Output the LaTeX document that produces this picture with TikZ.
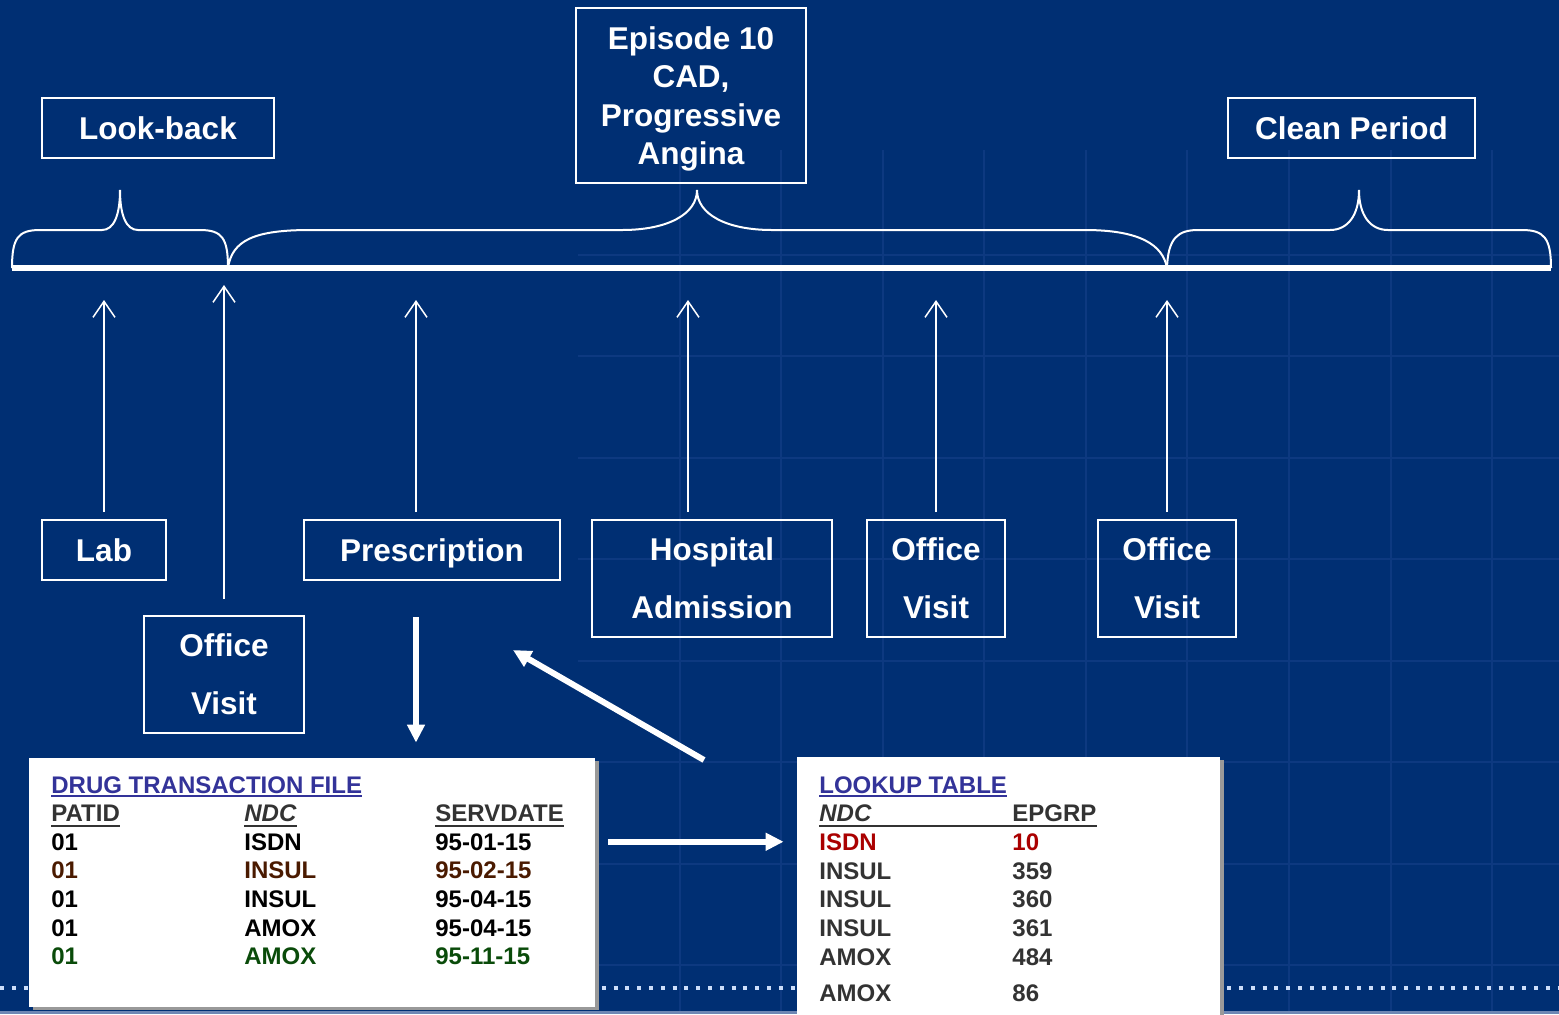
\documentclass[tikz,border=0pt]{standalone}
\usepackage{fontspec}
\setmainfont{Liberation Sans}
\usepackage{tikz}
\usetikzlibrary{arrows.meta,shadows}

\definecolor{bgblue}{RGB}{0,47,115}
\definecolor{gridblue}{RGB}{13,57,128}
\definecolor{dotcol}{RGB}{205,222,250}
\definecolor{stripcol}{RGB}{110,135,180}
\definecolor{shadowgray}{RGB}{153,153,153}
\definecolor{titleblue}{RGB}{51,51,153}
\definecolor{hdrgray}{RGB}{51,51,51}
\definecolor{brownrow}{RGB}{74,26,0}
\definecolor{greenrow}{RGB}{10,75,10}
\definecolor{redrow}{RGB}{170,0,0}

\begin{document}
\begin{tikzpicture}[x=0.5pt, y=-0.5pt,
    every node/.style={inner sep=0pt},
    box/.style={draw=white, line width=1pt, text=white, align=center, text depth=0pt, font=\fontsize{15.75}{19.25}\selectfont\bfseries},
    twoline/.style={box, font=\fontsize{15.75}{29}\selectfont\bfseries},
    uparrow/.style={draw=white, line width=0.75pt, -{Straight Barb[length=8pt, width=11pt]}},
    fatarrow/.style={draw=white, line width=3pt, -{Triangle[length=9pt, width=8.5pt]}},
    brace/.style={draw=white, line width=1pt},
    tablebox/.style={fill=white, drop shadow={shadow xshift=2pt, shadow yshift=-1.5pt, fill=shadowgray, opacity=1}},
    cell/.style={anchor=base west, font=\fontsize{12}{14}\selectfont\bfseries},
    cellit/.style={cell, font=\fontsize{12}{14}\selectfont\bfseries\itshape}]

    % Background and faint grid
    \useasboundingbox (0,0) rectangle (1559,1014);
    \fill[bgblue] (0,0) rectangle (1559,1014);
    \foreach \gx in {680,781,883,984,1086,1187,1289,1391,1492}
        \draw[gridblue, line width=0.75pt] (\gx,150) -- (\gx,1014);
    \foreach \gy in {255,356,458,559,661,762,864,965}
        \draw[gridblue, line width=0.75pt] (578,\gy) -- (1559,\gy);
    \draw[dotcol, line width=2pt, dash pattern=on 2pt off 3.9pt] (0,988) -- (1559,988);
    \fill[stripcol] (0,1011) rectangle (1559,1014);

    % Time line and braces
    \draw[white, line width=3pt] (12,268) -- (1551,268);
    \draw[brace] (12,268) .. controls (12,238) and (18,230) .. (40,230) -- (102,230)
        .. controls (114,230) and (120,215) .. (120,190)
        .. controls (120,215) and (126,230) .. (138,230) -- (200,230)
        .. controls (222,230) and (228,238) .. (228,268);
    \draw[brace] (228,268) .. controls (232,240) and (255,230) .. (310,230) -- (622,230)
        .. controls (668,230) and (697,214) .. (697,190)
        .. controls (697,214) and (726,230) .. (772,230) -- (1085,230)
        .. controls (1140,230) and (1163,245) .. (1167,268);
    \draw[brace] (1167,268) .. controls (1168,238) and (1178,230) .. (1198,230) -- (1330,230)
        .. controls (1348,230) and (1359,215) .. (1359,190)
        .. controls (1359,215) and (1370,230) .. (1388,230) -- (1522,230)
        .. controls (1544,230) and (1551,238) .. (1551,268);

    % Period labels
    \node[box, minimum width=116pt, minimum height=30pt] (look) at (158,128) {Look-back};
    \node[box, minimum width=115pt, minimum height=87.5pt] (episode) at (691,95.5) {Episode 10\\CAD,\\Progressive\\Angina};
    \node[box, minimum width=123.5pt, minimum height=30pt] (clean) at (1351.5,128) {Clean Period};

    % Events
    \node[box, minimum width=62pt, minimum height=30pt] (lab) at (104,550) {Lab};
    \node[twoline, minimum width=80pt, minimum height=58.5pt] (ov1) at (224,674.5) {Office\\Visit};
    \node[box, minimum width=128pt, minimum height=30pt] (presc) at (432,550) {Prescription};
    \node[twoline, minimum width=120pt, minimum height=58.5pt] (hosp) at (712,578.5) {Hospital\\Admission};
    \node[twoline, minimum width=69pt, minimum height=58.5pt] (ov2) at (936,578.5) {Office\\Visit};
    \node[twoline, minimum width=69pt, minimum height=58.5pt] (ov3) at (1167,578.5) {Office\\Visit};

    \foreach \n/\x/\y/\gap in {lab/104/300/3.5pt, ov1/224/285/8pt, presc/416/300/3.5pt, hosp/688/300/3.5pt, ov2/936/300/3.5pt, ov3/1167/300/3.5pt} {
        \coordinate (t\n) at (\x,\y);
        \draw[uparrow, shorten <=\gap] (t\n |- \n.north) -- (t\n);
    }

    % Drug transaction file
    \node[tablebox, minimum width=283pt, minimum height=124.5pt] (drug) at (312,882.5) {};
    \node[cell, text=titleblue] (dtitle) at (51,793) {DRUG TRANSACTION FILE};
    \draw[titleblue, line width=1.1pt] ([yshift=-1.5pt]dtitle.base west) -- ([yshift=-1.5pt]dtitle.base east);
    \node[cell, text=hdrgray] (dh1) at (51,821) {PATID};
    \node[cellit, text=hdrgray] (dh2) at (244,821) {NDC};
    \node[cell, text=hdrgray] (dh3) at (435,821) {SERVDATE};
    \foreach \h in {dh1,dh2,dh3}
        \draw[hdrgray, line width=1.4pt] ([yshift=-2.5pt]\h.base west) -- ([yshift=-2.5pt]\h.base east);
    \foreach \r/\y/\c/\ndc/\dt in {1/850/black/ISDN/95-01-15, 2/878/brownrow/INSUL/95-02-15, 3/907/black/INSUL/95-04-15, 4/936/black/AMOX/95-04-15, 5/964/greenrow/AMOX/95-11-15} {
        \node[cell, text=\c] (dp\r) at (51,\y) {01};
        \node[cell, text=\c] (dn\r) at (244,\y) {\ndc};
        \node[cell, text=\c] (dd\r) at (435,\y) {\dt};
    }

    % Lookup table
    \node[tablebox, minimum width=211.5pt, minimum height=132pt] (lookup) at (1008.5,889) {};
    \node[cell, text=titleblue] (ltitle) at (819,793) {LOOKUP TABLE};
    \draw[titleblue, line width=1.1pt] ([yshift=-1.5pt]ltitle.base west) -- ([yshift=-1.5pt]ltitle.base east);
    \node[cellit, text=hdrgray] (lh1) at (819,821) {NDC};
    \node[cell, text=hdrgray] (lh2) at (1012,821) {EPGRP};
    \draw[hdrgray, line width=1.4pt] ([yshift=-2.5pt]lh1.base west) -- ([yshift=-2.5pt]lh2.base east);
    \foreach \r/\y/\c/\ndc/\grp in {1/850/redrow/ISDN/10, 2/879/hdrgray/INSUL/359, 3/907/hdrgray/INSUL/360, 4/936/hdrgray/INSUL/361, 5/965/hdrgray/AMOX/484, 6/1001/hdrgray/AMOX/86} {
        \node[cell, text=\c] (ln\r) at (819,\y) {\ndc};
        \node[cell, text=\c] (lg\r) at (1012,\y) {\grp};
    }

    % Flow arrows
    \draw[fatarrow, shorten <=18pt, shorten >=7.5pt] (tpresc |- presc.south) -- (tpresc |- drug.north);
    \draw[fatarrow, shorten <=6.5pt, shorten >=6.5pt] (drug.east |- dn1.center) -- (lookup.west |- dn1.center);
    \coordinate (dgstart) at (704,760);
    \coordinate (dgend) at (513,650);
    \draw[fatarrow] (dgstart) -- (dgend);
\end{tikzpicture}
\end{document}
